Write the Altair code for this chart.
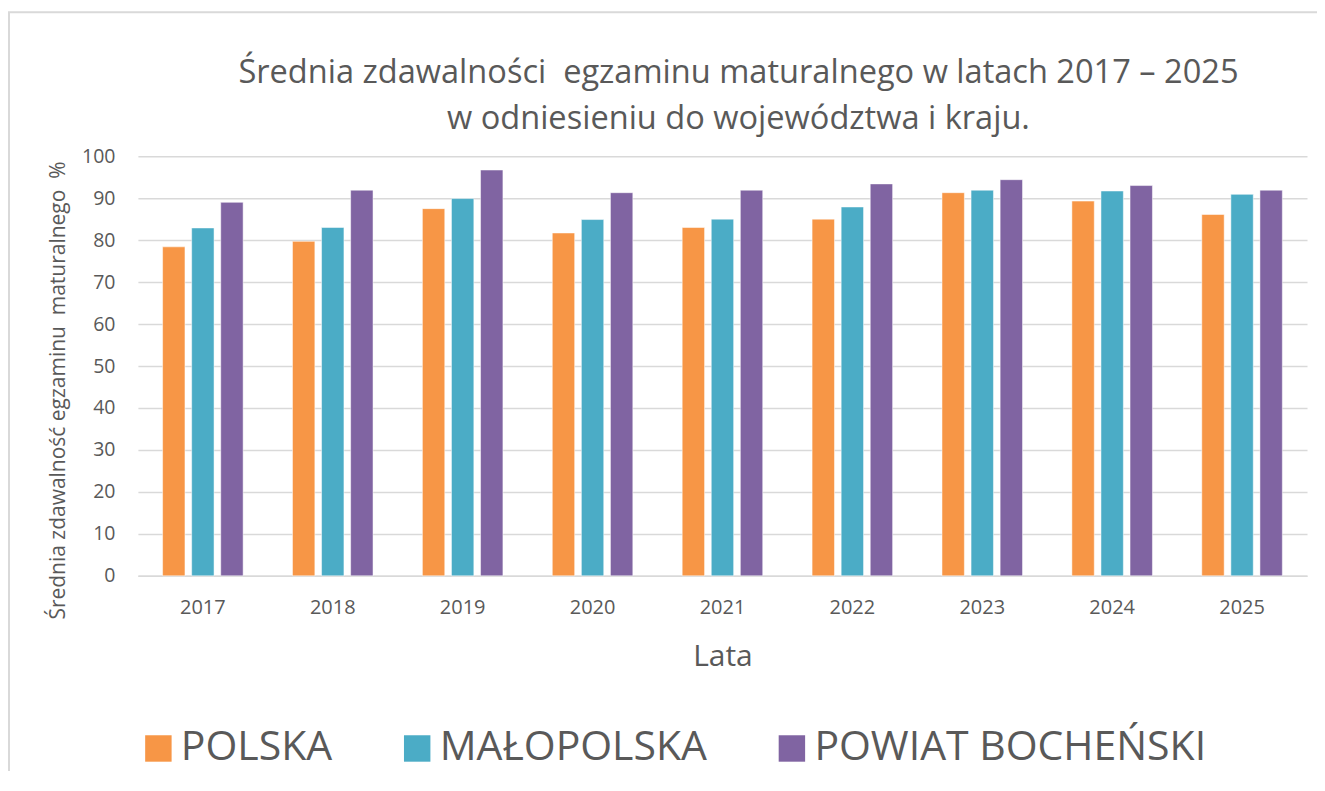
import altair as alt
import pandas as pd

years = ["2017", "2018", "2019", "2020", "2021", "2022", "2023", "2024", "2025"]
series = ["POLSKA", "MAŁOPOLSKA", "POWIAT BOCHEŃSKI"]
polska = [78.4, 79.7, 87.5, 81.7, 83.0, 85.0, 91.3, 89.3, 86.1]
malopolska = [82.9, 83.0, 89.9, 84.9, 85.0, 87.9, 91.9, 91.7, 90.9]
powiat = [89.0, 91.9, 96.7, 91.3, 91.9, 93.4, 94.4, 93.0, 91.9]
colors = ["#F79646", "#4BACC6", "#8064A2"]
y_ticks = [0, 10, 20, 30, 40, 50, 60, 70, 80, 90, 100]

rows = []
for name, vals in zip(series, [polska, malopolska, powiat]):
    for yr, v in zip(years, vals):
        rows.append({"year": yr, "series": name, "value": v})
df = pd.DataFrame(rows)

FONT = "Open Sans"
TXT = "#595959"
GRID = "#d9d9d9"

bars = alt.Chart(df).mark_bar(stroke="white", strokeWidth=1, strokeOpacity=0.5).encode(
    x=alt.X("year:N", sort=years,
            scale=alt.Scale(paddingInner=0.38, paddingOuter=0.19),
            axis=alt.Axis(title="Lata", labelAngle=0, labelFontSize=20, labelFont=FONT,
                          labelColor=TXT, labelPadding=22, ticks=False, tickSize=0,
                          domainColor=GRID, domainWidth=1.5, grid=False,
                          titleFontSize=30, titleFont=FONT, titleColor=TXT,
                          titleFontWeight="normal", titlePadding=24)),
    xOffset=alt.XOffset("series:N", sort=series,
                        scale=alt.Scale(paddingInner=0.23, paddingOuter=0)),
    y=alt.Y("value:Q", scale=alt.Scale(domain=[0, 100], nice=False),
            axis=alt.Axis(values=y_ticks, title="Średnia zdawalność egzaminu\u00a0 maturalnego\u00a0 %",
                          labelFontSize=19.5, labelFont=FONT, labelColor=TXT,
                          labelPadding=23, ticks=False, tickSize=0, domain=False,
                          gridColor=GRID, gridWidth=1.5,
                          titleFontSize=21, titleFont=FONT, titleColor=TXT,
                          titleFontWeight="normal", titlePadding=13, titleY=234)),
    color=alt.Color("series:N", sort=series,
                    scale=alt.Scale(domain=series, range=colors),
                    legend=alt.Legend(orient="none", legendX=0, legendY=572,
                                      direction="horizontal", title=None,
                                      symbolType="square", symbolSize=700,
                                      symbolStrokeWidth=0, symbolOpacity=1,
                                      labelFontSize=41, labelFont=FONT, labelColor=TXT,
                                      labelOffset=2, columnPadding=64, padding=0,
                                      labelLimit=600)),
)

frame_df = pd.DataFrame({"k": [0]})
frame = alt.Chart(frame_df).mark_rect(fill=None, stroke=GRID, strokeWidth=2).encode(
    x=alt.value(-129), x2=alt.value(1200), y=alt.value(-144), y2=alt.value(700)
)

chart = alt.layer(frame, bars).properties(
    width=1170, height=420,
    autosize=alt.AutoSizeParams(type="none"),
    padding={"left": 130, "top": 148, "right": 10, "bottom": 195},
    background="white",
    title=alt.TitleParams(
        ["Średnia zdawalności\u00a0 egzaminu maturalnego w latach 2017 – 2025",
         "w odniesieniu do województwa i kraju."],
        fontSize=32.6, font=FONT, fontWeight="normal", color=TXT,
        anchor="middle", frame="group", dx=16, offset=-124, lineHeight=46),
).configure_view(stroke=None)

chart.save("out.html", embed_options={"renderer": "svg", "actions": False})
